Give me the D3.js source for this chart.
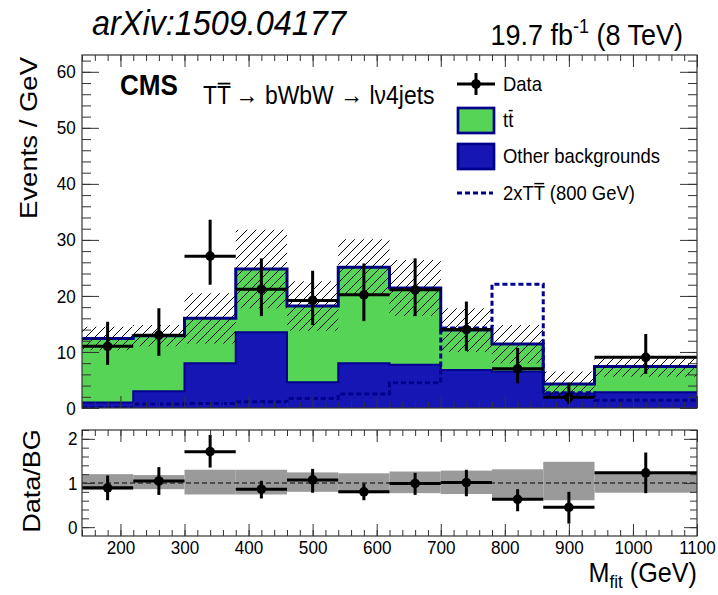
<!DOCTYPE html>
<html>
<head>
<meta charset="utf-8">
<script src="https://cdn.jsdelivr.net/npm/d3@7"></script>
<style>
    body { margin: 0; background: #fff; }
    svg { display: block; font-family: "Liberation Sans", Arial, Helvetica, sans-serif; }
    .axis line { stroke: #333; stroke-width: 1; }
    .axis text { font-size: 19px; fill: #000; font-family: "Liberation Sans", Arial, sans-serif; }
</style>
</head>
<body>
<svg id="chart" width="718" height="595"></svg>
<script>
// bins of M_fit (GeV)
const binEdges = [140, 220, 300, 380, 460, 540, 620, 700, 780, 860, 940, 1100];

// stacked backgrounds (Events / GeV)
const ttbar    = [11.4, 9.9, 8.0, 11.3, 13.6, 17.1, 13.7, 7.1, 4.9, 1.7, 4.6];
const otherBkg = [1.0, 3.0, 8.0, 13.5, 4.6, 8.0, 7.7, 6.8, 6.5, 2.6, 2.8];
const bkgErr   = [2.1, 1.9, 4.5, 7.0, 4.4, 5.0, 5.0, 3.9, 3.4, 2.2, 1.8];

// 2xTT (800 GeV) signal, drawn on its own
const signal = [0.05, 0.7, 0.8, 1.1, 1.7, 2.5, 4.5, 14.3, 22.1, 2.7, 1.4];

// data with asymmetric errors
const dataVal = [11.0, 13.0, 27.1, 21.2, 19.2, 20.2, 21.1, 14.0, 7.0, 1.9, 9.05];
const dataHi  = [15.4, 17.8, 33.6, 26.7, 24.5, 25.8, 26.7, 19.0, 10.7, 4.5, 13.2];
const dataLo  = [7.7, 9.3, 22.0, 16.4, 14.8, 15.5, 16.4, 10.2, 4.4, 0.7, 6.1];

// ratio panel
const ratioVal = [0.89, 1.045, 1.71, 0.86, 1.07, 0.80, 0.99, 1.01, 0.63, 0.45, 1.23];
const ratioHi  = [1.17, 1.36, 2.09, 1.05, 1.32, 0.99, 1.23, 1.30, 0.86, 0.80, 1.69];
const ratioLo  = [0.61, 0.73, 1.35, 0.65, 0.78, 0.61, 0.73, 0.70, 0.36, 0.08, 0.77];
const bandHi   = [1.20, 1.18, 1.30, 1.30, 1.24, 1.22, 1.26, 1.28, 1.31, 1.48, 1.23];
const bandLo   = [0.84, 0.86, 0.74, 0.74, 0.80, 0.77, 0.77, 0.75, 0.63, 0.61, 0.78];

// ticks
const xMajor = [200, 300, 400, 500, 600, 700, 800, 900, 1000, 1100];
const xMinor = d3.range(140, 1101, 20);
const yMainMajor = [0, 10, 20, 30, 40, 50, 60];
const yMainMinor = d3.range(0, 63, 2);
const yRatMajor = [0, 1, 2];
const yRatMinor = d3.range(0, 12).map(i => +(i * 0.2).toFixed(1));

const GREEN = '#55d455', BLUE = '#1616b4', NAVY = '#00008c';
const SX = 0.9; // the original canvas is squeezed horizontally

const svg = d3.select('#chart');

const x = d3.scaleLinear().domain([140, 1100]).range([82, 697]);
const yMain = d3.scaleLinear().domain([0, 63]).range([408, 55]);
const yRat = d3.scaleLinear().domain([-0.2, 2.2]).range([536, 430]);

const rows = binEdges.slice(0, -1).map((lo, i) => ({
    lo, hi: binEdges[i + 1], mid: (lo + binEdges[i + 1]) / 2,
    ttbar: ttbar[i], other: otherBkg[i], err: bkgErr[i], sig: signal[i],
    d: dataVal[i], dHi: dataHi[i], dLo: dataLo[i],
    r: ratioVal[i], rHi: ratioHi[i], rLo: ratioLo[i], bHi: bandHi[i], bLo: bandLo[i]
}));

// step helpers: repeat last bin at its upper edge
const bin = d => d.data || d;
const stepPts = (arr, f0, f1) => {
    const last = arr[arr.length - 1];
    return arr.map(d => ({ x: bin(d).lo, y0: f0(d), y1: f1(d) }))
        .concat([{ x: bin(last).hi, y0: f0(last), y1: f1(last) }]);
};
const stepArea = ys => d3.area().curve(d3.curveStepAfter)
    .x(p => x(p.x)).y0(p => ys(p.y0)).y1(p => ys(p.y1));
const stepLine = ys => d3.line().curve(d3.curveStepAfter)
    .x(p => x(p.x)).y(p => ys(p.y1));

const defs = svg.append('defs');
defs.append('clipPath').attr('id', 'clipMain')
    .append('rect').attr('x', 82).attr('y', 55).attr('width', 615).attr('height', 353);
defs.append('pattern').attr('id', 'hatch')
    .attr('patternUnits', 'userSpaceOnUse').attr('width', 9).attr('height', 9)
    .append('path')
    .attr('d', 'M0,9 L9,0 M-2,2 L2,-2 M7,11 L11,7')
    .attr('stroke', '#000').attr('stroke-width', 1);

// ---------------- main panel ----------------
const main = svg.append('g').attr('clip-path', 'url(#clipMain)');

const stacked = d3.stack().keys(['other', 'ttbar'])(rows);
const total = stacked[1];

main.append('path')
    .attr('d', stepArea(yMain)(stepPts(total, d => 0, d => d[1])))
    .attr('fill', GREEN);
main.append('path')
    .attr('d', stepArea(yMain)(stepPts(stacked[0], d => d[0], d => d[1])))
    .attr('fill', BLUE);
main.append('path')
    .attr('d', stepLine(yMain)(stepPts(stacked[0], d => 0, d => d[1])))
    .attr('fill', 'none').attr('stroke', NAVY).attr('stroke-width', 2);
main.append('path')
    .attr('d', stepLine(yMain)(stepPts(total, d => 0, d => d[1])))
    .attr('fill', 'none').attr('stroke', NAVY).attr('stroke-width', 3);

// background uncertainty
main.append('path')
    .attr('d', stepArea(yMain)(stepPts(total, d => d[1] - d.data.err, d => d[1] + d.data.err)))
    .attr('fill', 'url(#hatch)');

// signal
main.append('path')
    .attr('d', stepLine(yMain)(stepPts(rows, d => 0, d => d.sig)))
    .attr('fill', 'none').attr('stroke', NAVY).attr('stroke-width', 3)
    .attr('stroke-dasharray', '5,3');

function drawPoints(g, ys, val, lo, hi) {
    const pts = g.append('g').selectAll('g').data(rows).enter().append('g');
    pts.append('line')
        .attr('x1', d => x(d.lo)).attr('x2', d => x(d.hi))
        .attr('y1', d => ys(val(d))).attr('y2', d => ys(val(d)))
        .attr('stroke', '#000').attr('stroke-width', 3);
    pts.append('line')
        .attr('x1', d => x(d.mid)).attr('x2', d => x(d.mid))
        .attr('y1', d => ys(lo(d))).attr('y2', d => ys(hi(d)))
        .attr('stroke', '#000').attr('stroke-width', 3);
    pts.append('circle')
        .attr('cx', d => x(d.mid)).attr('cy', d => ys(val(d))).attr('r', 4.8)
        .attr('fill', '#000');
}
drawPoints(main, yMain, d => d.d, d => d.dLo, d => d.dHi);

// ---------------- ratio panel ----------------
const rat = svg.append('g');
rat.append('g').selectAll('rect').data(rows).enter().append('rect')
    .attr('x', d => x(d.lo)).attr('width', d => x(d.hi) - x(d.lo))
    .attr('y', d => yRat(d.bHi)).attr('height', d => yRat(d.bLo) - yRat(d.bHi))
    .attr('fill', '#9a9a9a');
rat.append('line')
    .attr('x1', x(140)).attr('x2', x(1100)).attr('y1', yRat(1)).attr('y2', yRat(1))
    .attr('stroke', '#000').attr('stroke-width', 1).attr('stroke-dasharray', '5,3');
drawPoints(rat, yRat, d => d.r, d => d.rLo, d => d.rHi);

// ---------------- axes (ROOT style, ticks on all sides) ----------------
function frameAxes(ys, top, bottom, yMaj, yMin, yLen, xLabels, yPad) {
    const g = svg.append('g').attr('class', 'axis');
    const put = (axis, tx, ty) => {
        const a = g.append('g').attr('transform', `translate(${tx},${ty})`).call(axis);
        a.select('.domain').remove();
        return a;
    };
    put(d3.axisBottom(x).tickValues(xMajor).tickSize(-12).tickSizeOuter(0)
        .tickPadding(5).tickFormat(xLabels ? d3.format('d') : ''), 0, bottom)
        .selectAll('text').attr('transform', `scale(${SX},1)`);
    put(d3.axisBottom(x).tickValues(xMinor).tickSize(-6).tickFormat(''), 0, bottom);
    put(d3.axisTop(x).tickValues(xMajor).tickSize(-12).tickFormat(''), 0, top);
    put(d3.axisTop(x).tickValues(xMinor).tickSize(-6).tickFormat(''), 0, top);
    put(d3.axisLeft(ys).tickValues(yMaj).tickSize(-yLen[0]).tickPadding(yPad)
        .tickFormat(d3.format('d')), 82, 0)
        .selectAll('text').attr('transform', `scale(${SX},1)`);
    put(d3.axisLeft(ys).tickValues(yMin).tickSize(-yLen[1]).tickFormat(''), 82, 0);
    put(d3.axisRight(ys).tickValues(yMaj).tickSize(-yLen[0]).tickFormat(''), 697, 0);
    put(d3.axisRight(ys).tickValues(yMin).tickSize(-yLen[1]).tickFormat(''), 697, 0);
    g.append('rect').attr('x', 82).attr('y', top).attr('width', 615).attr('height', bottom - top)
        .attr('fill', 'none').attr('stroke', '#333').attr('stroke-width', 1.2);
}
frameAxes(yMain, 55, 408, yMainMajor, yMainMinor, [17, 9], false, 7);
frameAxes(yRat, 430, 536, yRatMajor, yRatMinor, [13, 7], true, 5);

// ---------------- texts ----------------
function label(px, py, s, size, anchor, rotate) {
    const g = svg.append('g')
        .attr('transform', `translate(${px},${py}) scale(${SX},1)` + (rotate ? ' rotate(-90)' : ''));
    return g.append('text')
        .attr('font-size', size).attr('text-anchor', anchor || 'start').attr('fill', '#000')
        .text(s);
}
function overbar(t, i, size) {
    const n = t.node();
    const a = n.getStartPositionOfChar(i), b = n.getEndPositionOfChar(i);
    d3.select(n.parentNode).append('line')
        .attr('x1', a.x + size * 0.03).attr('x2', b.x - size * 0.03)
        .attr('y1', -size * 0.8).attr('y2', -size * 0.8)
        .attr('stroke', '#000').attr('stroke-width', size * 0.07);
}

label(92, 35, 'arXiv:1509.04177', 36).attr('font-style', 'italic');

const lumi = label(683, 45, '19.7 fb', 30, 'end');
lumi.append('tspan').attr('font-size', 20).attr('dy', -12).text('-1');
lumi.append('tspan').attr('dy', 12).text(' (8 TeV)');

label(120, 95, 'CMS', 29).attr('font-weight', 'bold');
const proc = label(203, 104, 'TT\u2009\u2192 bWbW \u2192 l\u03bd4jets', 25.5);
overbar(proc, 1, 25.5);

label(37, 57, 'Events / GeV', 27.5, 'end', true);
label(40, 481, 'Data/BG', 27, 'middle', true);

const xt = label(697, 582, 'M', 28, 'end');
xt.append('tspan').attr('font-size', 19).attr('dy', 6).text('fit');
xt.append('tspan').attr('dy', -6).text(' (GeV)');

// ---------------- legend ----------------
const leg = svg.append('g');
leg.append('line').attr('x1', 457).attr('x2', 495).attr('y1', 84).attr('y2', 84)
    .attr('stroke', '#000').attr('stroke-width', 3);
leg.append('line').attr('x1', 476).attr('x2', 476).attr('y1', 73).attr('y2', 95)
    .attr('stroke', '#000').attr('stroke-width', 3);
leg.append('circle').attr('cx', 476).attr('cy', 84).attr('r', 4.8).attr('fill', '#000');
leg.append('rect').attr('x', 458).attr('y', 108).attr('width', 36).attr('height', 25)
    .attr('fill', GREEN).attr('stroke', NAVY).attr('stroke-width', 2.7);
leg.append('rect').attr('x', 458).attr('y', 144).attr('width', 36).attr('height', 25)
    .attr('fill', BLUE).attr('stroke', NAVY).attr('stroke-width', 2.7);
leg.append('line').attr('x1', 457).attr('x2', 493).attr('y1', 193).attr('y2', 193)
    .attr('stroke', NAVY).attr('stroke-width', 3).attr('stroke-dasharray', '5,3');

label(503, 91, 'Data', 20.5);
overbar(label(503, 127, 'tt', 20.5), 1, 20.5);
label(503, 163, 'Other backgrounds', 20.5);
overbar(label(503, 200, '2xTT (800 GeV)', 20.5), 3, 20.5);
</script>
</body>
</html>
